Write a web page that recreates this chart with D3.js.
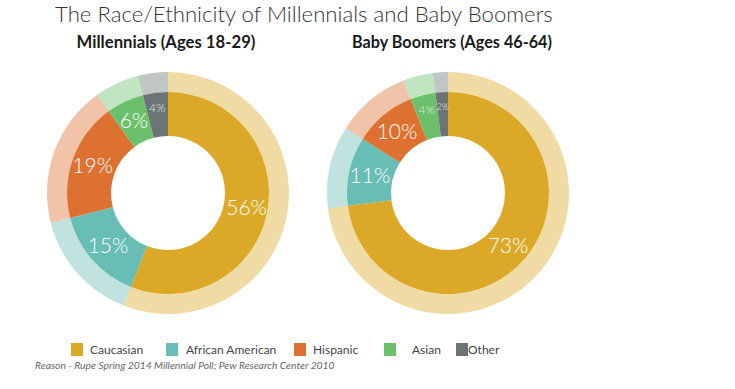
<!DOCTYPE html>
<html>
<head>
<meta charset="utf-8">
<script src="https://cdn.jsdelivr.net/npm/d3@7"></script>
<style>
  body { margin: 0; background: #fff; }
  svg text { font-family: Lato, "Open Sans", sans-serif; }
</style>
</head>
<body>
<div id="chart"></div>
<script>
// data
var categories = ['Caucasian', 'African American', 'Hispanic', 'Asian', 'Other'];
var millennials = [56, 15, 19, 6, 4];
var boomers = [73, 11, 10, 4, 2];
var panelTitles = ['Millennials (Ages 18-29)', 'Baby Boomers (Ages 46-64)'];
var chartTitle = 'The Race/Ethnicity of Millennials and Baby Boomers';
var sourceNote = 'Reason - Rupe Spring 2014 Millennial Poll; Pew Research Center 2010';

const WIDTH = 735;
const HEIGHT = 389;
const COLORS = ['#dba927', '#68bdb5', '#dd7131', '#6cc06b', '#6a7475'];
const R_HOLE = 57, R_INNER = 101, R_OUTER = 121;

var svg = d3.select('#chart').append('svg')
	.attr('width', WIDTH)
	.attr('height', HEIGHT);

var color = d3.scaleOrdinal().domain(categories).range(COLORS);

// fit a text element to a target width by scaling its font size
function fitWidth (sel, w) {
	var len = sel.node().getComputedTextLength();
	var fs = parseFloat(sel.attr('font-size'));
	sel.attr('font-size', fs * w / len);
}

svg.append('text')
	.attr('x', 55).attr('y', 22)
	.attr('font-size', 20)
	.attr('font-weight', 300)
	.attr('fill', '#333')
	.text(chartTitle)
	.call(fitWidth, 498);

var pie = d3.pie().sort(null).value(function (d) { return d.value; });
var arcInner = d3.arc().innerRadius(R_HOLE).outerRadius(R_INNER);
var arcOuter = d3.arc().innerRadius(R_INNER).outerRadius(R_OUTER);
var arcLabel = d3.arc().innerRadius(80).outerRadius(80);
var arcLabelSmall = d3.arc().innerRadius(86).outerRadius(86);

var panels = [
	{ title: panelTitles[0], values: millennials, cx: 168, tx: 166, tw: 179 },
	{ title: panelTitles[1], values: boomers, cx: 448, tx: 452, tw: 200 }
];

panels.forEach(function (p) {
	svg.append('text')
		.attr('x', p.tx).attr('y', 48)
		.attr('text-anchor', 'middle')
		.attr('font-size', 14)
		.attr('font-weight', 'bold')
		.attr('fill', '#1a1a1a')
		.text(p.title)
		.call(fitWidth, p.tw);

	var data = categories.map(function (c, i) { return { name: c, value: p.values[i] }; });
	var arcs = pie(data);
	var g = svg.append('g').attr('transform', 'translate(' + p.cx + ',193)');

	g.selectAll('.outer').data(arcs).enter().append('path')
		.attr('class', 'outer')
		.attr('d', arcOuter)
		.attr('fill', function (d) { return color(d.data.name); })
		.attr('opacity', 0.42);

	g.selectAll('.inner').data(arcs).enter().append('path')
		.attr('class', 'inner')
		.attr('d', arcInner)
		.attr('fill', function (d) { return color(d.data.name); });

	g.selectAll('.lbl').data(arcs).enter().append('text')
		.attr('class', 'lbl')
		.attr('transform', function (d) {
			var a = d.data.value < 6 ? arcLabelSmall : arcLabel;
			return 'translate(' + a.centroid(d) + ')';
		})
		.attr('text-anchor', 'middle')
		.attr('dy', '0.35em')
		.attr('font-size', function (d) {
			var v = d.data.value;
			return v >= 6 ? 21 : (v >= 4 ? 12 : 9);
		})
		.attr('font-weight', 300)
		.attr('fill', function (d) { return d.data.value < 6 ? '#e6e6e6' : '#fff'; })
		.text(function (d) { return d.data.value + '%'; });
});

// legend
var legendX = [71, 166, 294, 384, 456];
var legendTextX = [90, 186, 313, 412, 468];
var legend = svg.append('g');
categories.forEach(function (c, i) {
	legend.append('rect')
		.attr('x', legendX[i]).attr('y', 343)
		.attr('width', 12).attr('height', 13)
		.attr('fill', color(c));
	legend.append('text')
		.attr('x', legendTextX[i]).attr('y', 354)
		.attr('font-size', 12)
		.attr('fill', '#444')
		.text(c);
});

svg.append('text')
	.attr('x', 35).attr('y', 369)
	.attr('font-size', 10)
	.attr('font-style', 'italic')
	.attr('fill', '#666')
	.text(sourceNote)
	.call(fitWidth, 300);
</script>
</body>
</html>
